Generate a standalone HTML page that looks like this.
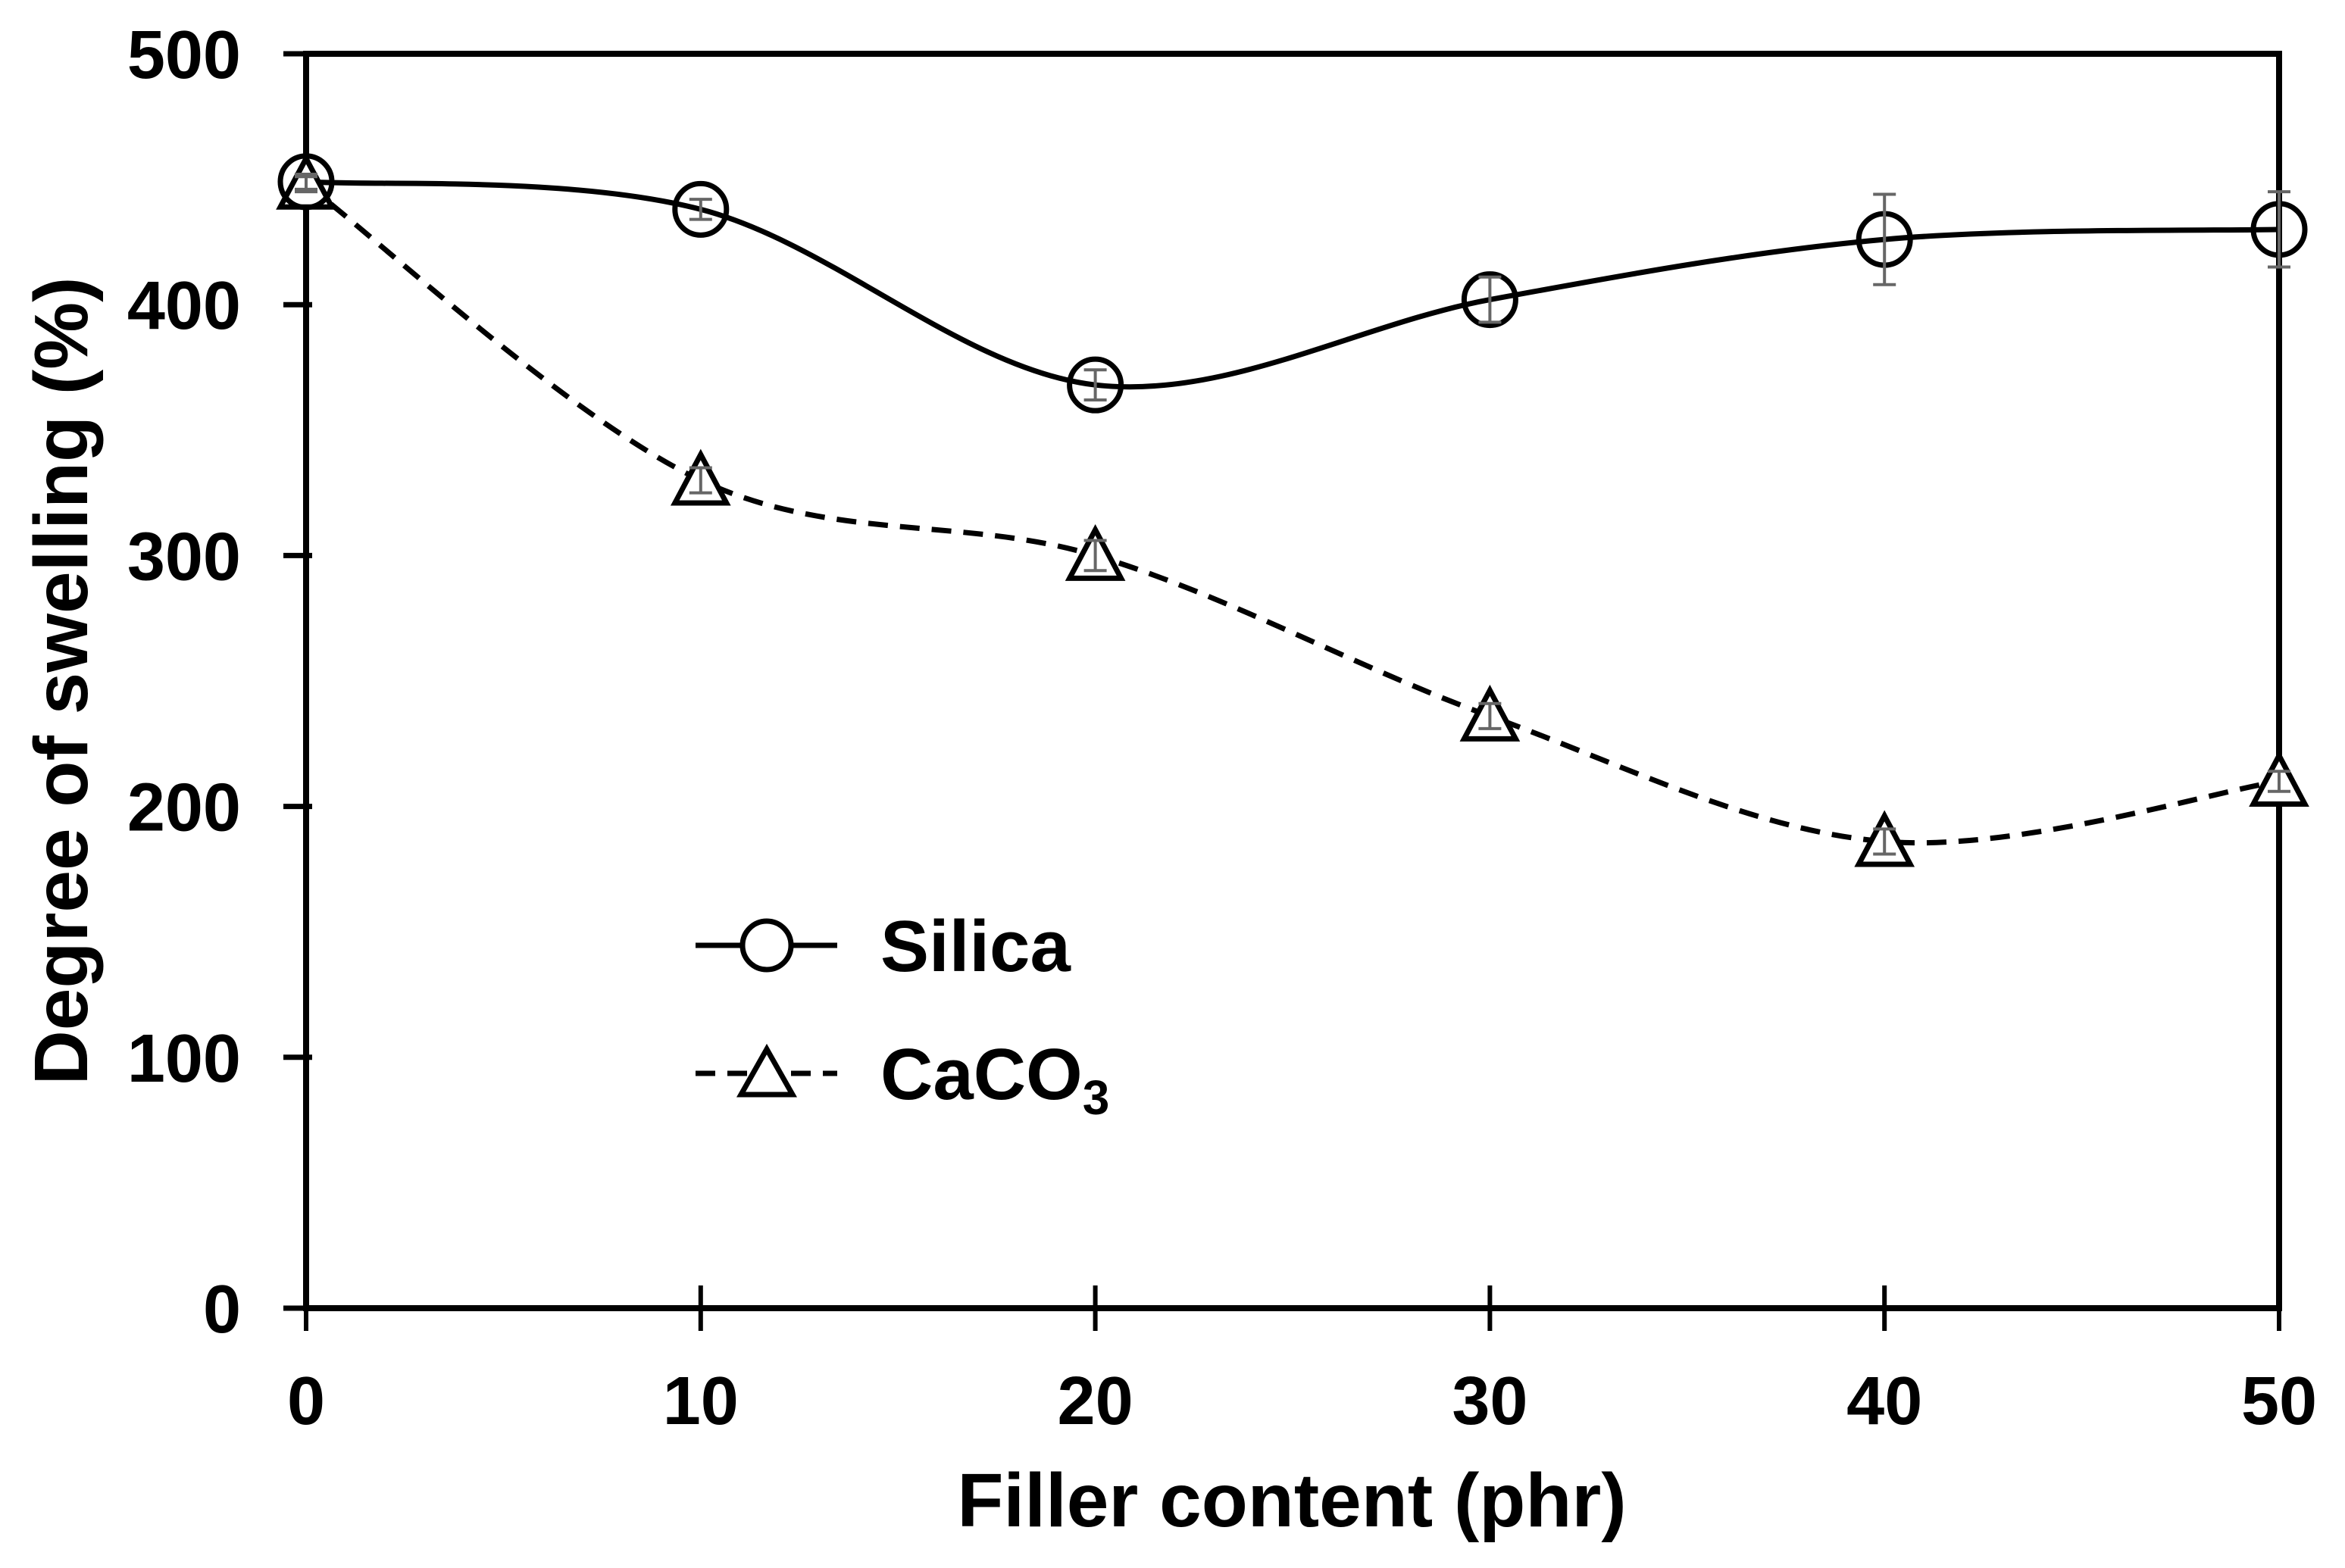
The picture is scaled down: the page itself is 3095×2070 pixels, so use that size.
<!DOCTYPE html>
<html><head><meta charset="utf-8"><style>
html,body{margin:0;padding:0;background:#fff;}
svg{display:block;}
text{font-family:"Liberation Sans",Arial,sans-serif;font-weight:bold;fill:#000;}
</style></head><body>
<svg id="chart" width="3095" height="2070" viewBox="0 0 3095 2070" xmlns="http://www.w3.org/2000/svg">
<g id="axes"></g>
<g id="series"></g>
<g id="legend">
  <line x1="918" y1="1248" x2="1105" y2="1248" stroke="#000" stroke-width="7"/>
  <circle cx="1012" cy="1248" r="32" fill="#fff" stroke="#000" stroke-width="7"/>
  <text x="1162" y="1282" font-size="96">Silica</text>
  <line x1="918" y1="1417" x2="1105" y2="1417" stroke="#000" stroke-width="7" stroke-dasharray="26,16"/>
  <polygon points="1012,1385 1046,1445 978,1445" fill="#fff" stroke="#000" stroke-width="7"/>
  <text x="1162" y="1451" font-size="96">CaCO<tspan font-size="64" dy="20">3</tspan></text>
</g>
<text x="1705" y="2015" font-size="100" text-anchor="middle">Filler content (phr)</text>
<text transform="translate(115,899) rotate(-90)" font-size="100" text-anchor="middle">Degree of swelling (%)</text>
</svg>
<script>
const xCategories = [0, 10, 20, 30, 40, 50];
const silicaValues = [449, 438, 368, 402, 426, 430];
const silicaErrors = [3, 4, 6, 9, 18, 15];
const caco3Values = [448, 330, 300, 236, 186, 210];
const caco3Errors = [3, 5, 6, 5, 5, 4];
const yTicks = [0, 100, 200, 300, 400, 500];
const xTicks = [0, 10, 20, 30, 40, 50];

const L = 404, R = 3008, T = 71, B = 1727;
function xs(v){ return L + (v - 0) / 50 * (R - L); }
function ys(v){ return B - v / 500 * (B - T); }
const NS = "http://www.w3.org/2000/svg";
function mk(tag, attrs, parent){
  const e = document.createElementNS(NS, tag);
  for (const k in attrs) e.setAttribute(k, attrs[k]);
  parent.appendChild(e);
  return e;
}
const axes = document.getElementById('axes');
const frame = mk('rect', {x:L, y:T, width:R-L, height:B-T, fill:'none', stroke:'#000', 'stroke-width':8}, axes);


yTicks.forEach(v => {
  const t = mk('line', {x1:L-30, x2:L+8, y1:ys(v), y2:ys(v), stroke:'#000', 'stroke-width':7}, axes);
  
  
  const lb = mk('text', {x:318, y:ys(v)+32, 'font-size':90, 'text-anchor':'end'}, axes);
  
  
  lb.textContent = v;
});
xTicks.forEach(v => {
  const t = mk('line', {x1:xs(v), x2:xs(v), y1:B-30, y2:B+30, stroke:'#000', 'stroke-width':6}, axes);
  
  
  const lb = mk('text', {x:xs(v), y:1880, 'font-size':90, 'text-anchor':'middle'}, axes);
  
  
  lb.textContent = v;
});
function smoothPath(xv, yv){
  const p = xv.map((x,i)=>[xs(x), ys(yv[i])]);
  let d = `M${p[0][0]},${p[0][1]}`;
  for (let i=0;i<p.length-1;i++){
    const p0 = p[Math.max(0,i-1)], p1 = p[i], p2 = p[i+1], p3 = p[Math.min(p.length-1,i+2)];
    const c1 = [p1[0]+(p2[0]-p0[0])/6, p1[1]+(p2[1]-p0[1])/6];
    const c2 = [p2[0]-(p3[0]-p1[0])/6, p2[1]-(p3[1]-p1[1])/6];
    d += ` C${c1[0]},${c1[1]} ${c2[0]},${c2[1]} ${p2[0]},${p2[1]}`;
  }
  return d;
}
const series = document.getElementById('series');
const cl = mk('path', {d:smoothPath(xCategories, caco3Values), fill:'none', stroke:'#000', 'stroke-width':7, 'stroke-dasharray':'26,16'}, series);


const sl = mk('path', {d:smoothPath(xCategories, silicaValues), fill:'none', stroke:'#000', 'stroke-width':7}, series);


function errBar(x, v, e){
  const g = mk('g', {stroke:'#666', 'stroke-width':4}, series);
  
  
  mk('line', {x1:xs(x), x2:xs(x), y1:ys(v+e), y2:ys(v-e)}, g);
  mk('line', {x1:xs(x)-15, x2:xs(x)+15, y1:ys(v+e), y2:ys(v+e)}, g);
  mk('line', {x1:xs(x)-15, x2:xs(x)+15, y1:ys(v-e), y2:ys(v-e)}, g);
}
xCategories.forEach((x,i)=>{
  const cx = xs(x), cy = ys(caco3Values[i]);
  const tri = mk('polygon', {points:`${cx},${cy-34} ${cx+34},${cy+30} ${cx-34},${cy+30}`, fill:'#fff', stroke:'#000', 'stroke-width':7}, series);
  
  
  errBar(x, caco3Values[i], caco3Errors[i]);
});
xCategories.forEach((x,i)=>{
  const c = mk('circle', {cx:xs(x), cy:ys(silicaValues[i]), r:34, fill:'none', stroke:'#000', 'stroke-width':7}, series);
  
  
  errBar(x, silicaValues[i], silicaErrors[i]);
});
</script>
</body></html>
